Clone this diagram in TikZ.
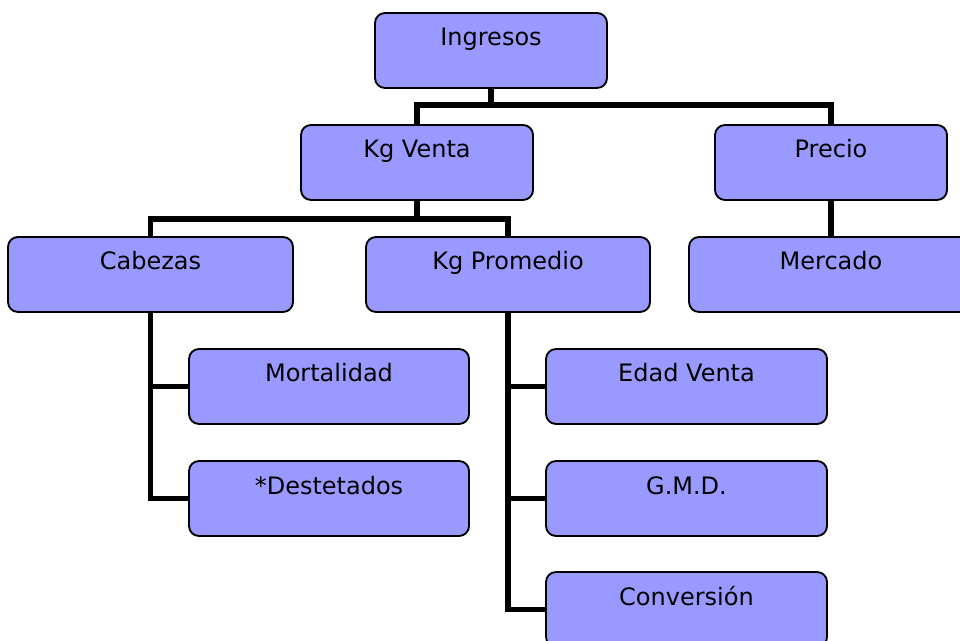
\documentclass[tikz,border=0pt]{standalone}
\usepackage{fontspec}
\setmainfont{DejaVu Sans}
\usetikzlibrary{backgrounds}
\definecolor{boxblue}{HTML}{9999FF}
\begin{document}
\begin{tikzpicture}[x=0.75pt,y=-0.75pt,
  caja/.style={draw,line width=1.4pt,rounded corners=7.5pt,fill=boxblue,
    inner xsep=0pt,inner ysep=0pt,text height=24.75pt,text depth=31.5pt,
    minimum width=#1,font=\fontsize{18}{21}\selectfont},
  caja/.default=174pt,
  linea/.style={line width=4.2pt}]
  \useasboundingbox (0,0) rectangle (960,641);
  \clip (0,0) rectangle (960,641);
  \node[caja] (ing) at (491,50.5) {Ingresos};
  \node[caja] (kgv) at (417,162.5) {Kg Venta};
  \node[caja] (pre) at (831,162.5) {Precio};
  \node[caja=213.75pt] (cab) at (150.5,274.5) {Cabezas};
  \node[caja=213pt] (kgp) at (508,274.5) {Kg Promedio};
  \node[caja=213pt] (mer) at (831,274.5) {Mercado};
  \node[caja=210pt] (mort) at (329,386.5) {Mortalidad};
  \node[caja=210pt] (dest) at (329,498.5) {*Destetados};
  \node[caja=210.75pt] (edad) at (686.5,386.5) {Edad Venta};
  \node[caja=210.75pt] (gmd) at (686.5,498.5) {G.M.D.};
  \node[caja=210.75pt] (conv) at (686.5,609.5) {Conversión};
  \begin{scope}[on background layer]
    \draw[linea] (ing.south) -- ++(0,18);
    \draw[linea] (kgv.north) -- ++(0,-19) -| (pre.north);
    \draw[linea] (kgv.south) -- ++(0,18) -| (cab.north);
    \draw[linea] (kgv.south) ++(0,18) -| (kgp.north);
    \draw[linea] (pre.south) -- (mer.north);
    \draw[linea] (cab.south) |- (mort.west);
    \draw[linea] (cab.south) |- (dest.west);
    \draw[linea] (kgp.south) |- (edad.west);
    \draw[linea] (kgp.south) |- (gmd.west);
    \draw[linea] (kgp.south) |- (conv.west);
  \end{scope}
\end{tikzpicture}
\end{document}
